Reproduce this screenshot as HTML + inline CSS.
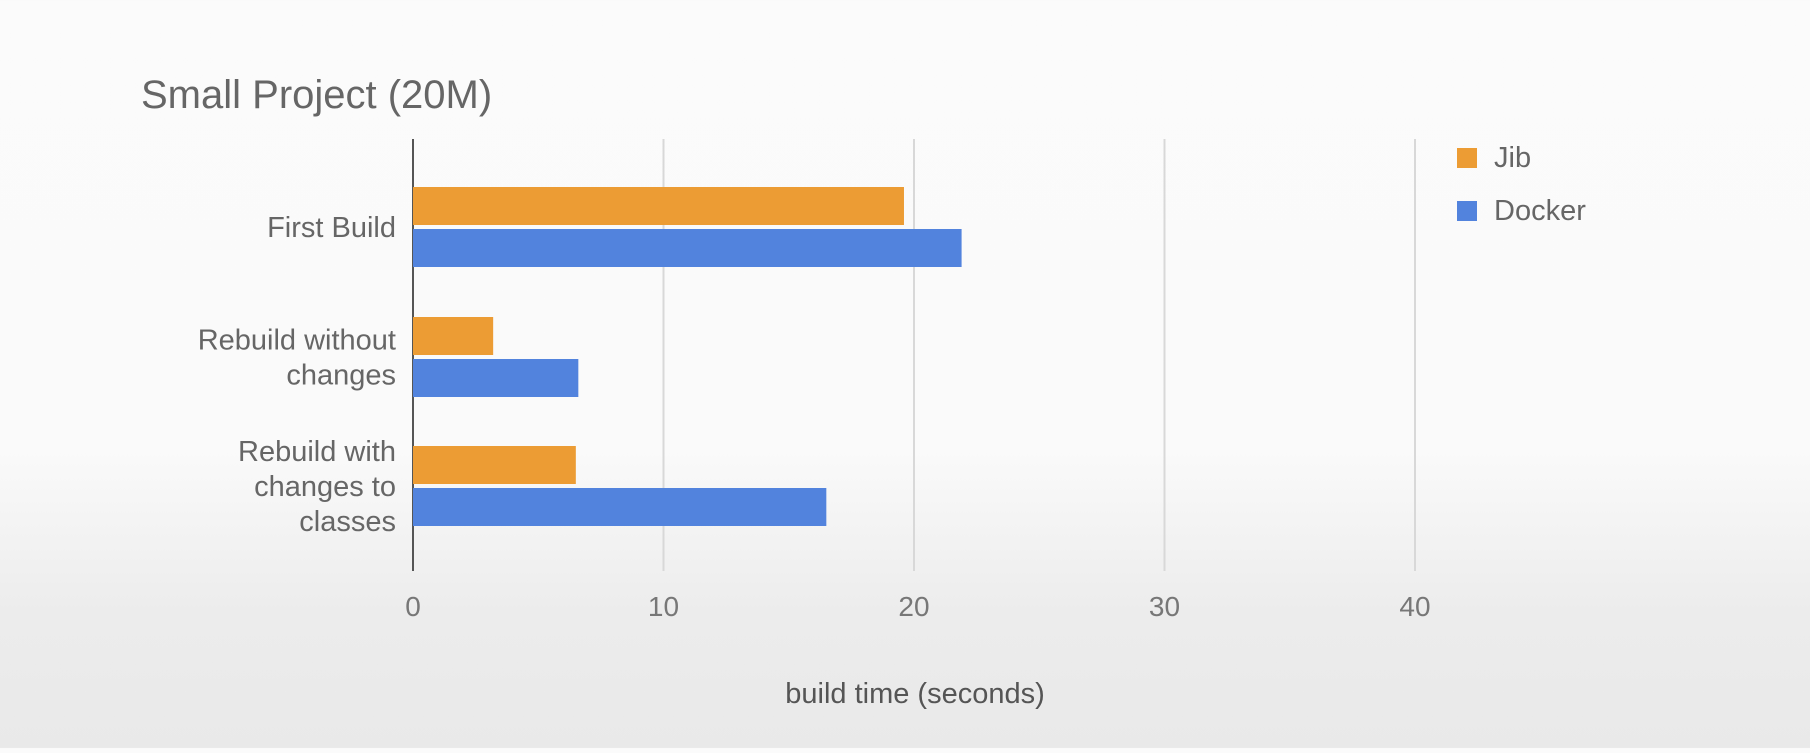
<!DOCTYPE html>
<html><head><meta charset="utf-8"><style>
html,body{margin:0;padding:0}
body{width:1810px;height:748px;overflow:hidden;background:linear-gradient(#fbfbfb 0%,#fafafa 60%,#ececec 82%,#e9e9e9 100%);font-family:"Liberation Sans",sans-serif}
</style></head><body>
<svg id="chart" width="1810" height="748" xmlns="http://www.w3.org/2000/svg" font-family="Liberation Sans, sans-serif">
<text x="141" y="108" font-size="40" fill="#666">Small Project (20M)</text>
<g id="grid"></g><g id="bars"></g><g id="labels"></g>
<g>
<rect x="1457" y="148" width="20" height="20" fill="#ec9c34"/>
<text x="1494" y="167" font-size="29" fill="#666">Jib</text>
<rect x="1457" y="201" width="20" height="20" fill="#5283dd"/>
<text x="1494" y="220" font-size="29" fill="#666">Docker</text>
</g>
<text x="915" y="703" font-size="29" fill="#555" text-anchor="middle">build time (seconds)</text>
</svg>
<script>
const categories=[["First Build"],["Rebuild without","changes"],["Rebuild with","changes to","classes"]];
const jib=[19.6,3.2,6.5];
const docker=[21.9,6.6,16.5];
const ticks=[0,10,20,30,40];
const NS="http://www.w3.org/2000/svg";
const x0=413,unit=25.05,yTop=139,yBottom=571;
const xs=v=>x0+v*unit;
const catCenter=[227,357,486];
function mk(t,a,p){const e=document.createElementNS(NS,t);for(const k in a)e.setAttribute(k,a[k]);p.appendChild(e);return e;}
const grid=document.getElementById('grid'),bars=document.getElementById('bars'),labels=document.getElementById('labels');
ticks.forEach(t=>{
 if(t>0){const l=mk('line',{x1:xs(t),x2:xs(t),y1:yTop,y2:yBottom,stroke:'#d8d8d8','stroke-width':2},grid);
 
 }
 const tx=mk('text',{x:xs(t),y:616,'font-size':28,fill:'#777','text-anchor':'middle'},labels);
 tx.textContent=t;
 
 
});
categories.forEach((c,i)=>{
 const cy=catCenter[i];
 const b1=mk('rect',{x:x0,y:cy-40,width:xs(jib[i])-x0,height:38,fill:'#ec9c34'},bars);
 
 
 const b2=mk('rect',{x:x0,y:cy+2,width:xs(docker[i])-x0,height:38,fill:'#5283dd'},bars);
 
 
 const n=c.length,lh=35,start=cy-(n-1)*lh/2+10;
 c.forEach((s,j)=>{const t=mk('text',{x:396,y:start+j*lh,'font-size':29,fill:'#666','text-anchor':'end'},labels);
  t.textContent=s;
  
  });
});
const ax=mk('line',{x1:x0,x2:x0,y1:yTop,y2:yBottom,stroke:'#555','stroke-width':2},grid);


</script>
</body></html>
